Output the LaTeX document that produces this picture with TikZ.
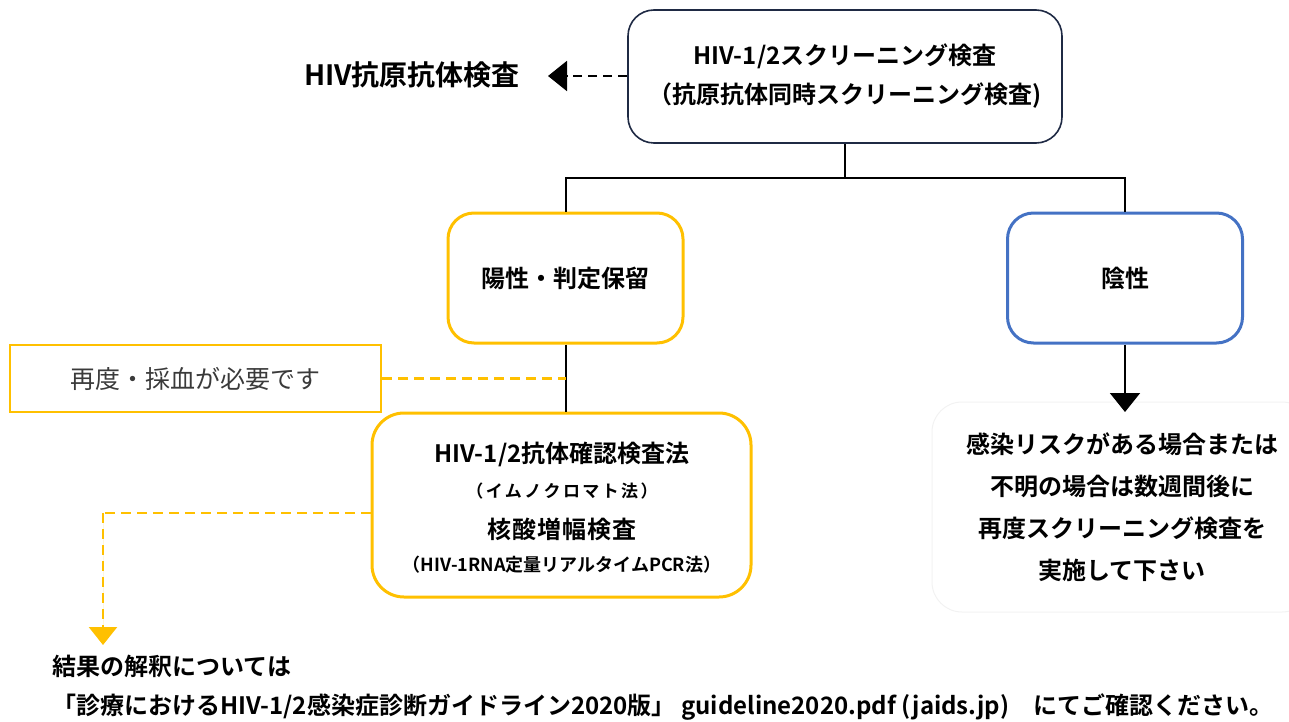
\documentclass[tikz,border=0pt]{standalone}
\usepackage{fontspec}
\setmainfont{Noto Sans CJK JP}[BoldFont={Noto Sans CJK JP Bold}]
\usetikzlibrary{arrows.meta}
\definecolor{ylw}{HTML}{FFC000}
\definecolor{blu}{HTML}{4472C4}
\definecolor{navy}{HTML}{1F2A44}
\definecolor{txtgray}{HTML}{3A3A3A}
\newcommand{\fsz}[2]{\fontsize{#1}{#2}\selectfont}
\begin{document}
\begin{tikzpicture}[x=1pt,y=-1pt,
  rbox/.style={rounded corners=26pt, line width=3pt, align=center, inner sep=0pt},
  txt/.style={inner sep=0pt, align=center, font=\bfseries},
  conn/.style={draw=black, line width=2pt},
  bdash/.style={draw=black, line width=2pt, dash pattern=on 9pt off 6pt},
  ydash/.style={draw=ylw, line width=2.5pt, dash pattern=on 10pt off 6pt},
  btip/.style={-{Triangle[length=19pt,width=30pt]}},
  ytip/.style={-{Triangle[length=18pt,width=28pt]}}]
\useasboundingbox (0,0) rectangle (1289,722);

% boxes
\node[rbox, draw=navy, line width=1.6pt, minimum width=434pt, minimum height=133pt,
      font=\bfseries\fsz{24}{39}] (top) at (845,76.5)
  {HIV-1/2スクリーニング検査\\（抗原抗体同時スクリーニング検査)};
\node[rbox, draw=ylw, minimum width=235pt, minimum height=130pt,
      font=\bfseries\fsz{24}{28}] (pos) at (565.5,278) {陽性・判定保留};
\node[rbox, draw=blu, minimum width=235pt, minimum height=130pt,
      font=\bfseries\fsz{24}{28}] (neg) at (1125,278) {陰性};
\node[draw=ylw, line width=2.5pt, minimum width=371pt, minimum height=67pt, inner sep=0pt,
      text=txtgray, font=\fsz{25}{30}] (redo) at (195.5,378.5) {再度・採血が必要です};
\node[rbox, draw=ylw, rounded corners=32pt, minimum width=379pt, minimum height=184pt] (conf) at (561.5,505) {};
\node[txt, font=\bfseries\fsz{24}{28}] (c1) at (562,454) {HIV-1/2抗体確認検査法};
\node[txt, font=\bfseries\fsz{17}{20}\addfontfeature{LetterSpace=14}] (c2) at (562,491) {（イムノクロマト法）};
\node[txt, font=\bfseries\fsz{24}{28}\addfontfeature{LetterSpace=4}] (c3) at (562,529) {核酸増幅検査};
\node[txt, font=\bfseries\fsz{18}{20}] (c4) at (562,565) {（HIV-1RNA定量リアルタイムPCR法）};

\node[draw=black!5, line width=1pt, rounded corners=30pt, minimum width=380pt, minimum height=210pt,
      inner sep=0pt, align=center, font=\bfseries\fsz{24}{42}] (advice) at (1122,507)
  {感染リスクがある場合または\\不明の場合は数週間後に\\再度スクリーニング検査を\\実施して下さい};

\node[txt, font=\bfseries\fsz{28}{32}] (hivab) at (412,75) {HIV抗原抗体検査};

\node[txt, anchor=west, font=\bfseries\fsz{24}{28}] (res1) at (52,666) {結果の解釈については};
\node[txt, anchor=west, font=\bfseries\fsz{24}{28}] (res2) at (52,707)
  {「診療におけるHIV-1/2感染症診断ガイドライン2020版」 guideline2020.pdf (jaids.jp)　にてご確認ください。};

% coordinates
\coordinate (split) at (845,178);
\coordinate (hivtip) at (548,76);
\coordinate (negtip) at (1125,412);
\coordinate (bend) at (103,513);
\coordinate (restip) at (103,645);

% connectors
\draw[conn] (top.south) -- (split);
\draw[conn] (pos.north) |- (split) -| (neg.north);
\draw[conn] (pos.south) -- (pos.south |- conf.north);
\draw[bdash, btip] (top.west |- hivtip) -- (hivtip);
\draw[conn, btip] (neg.south) -- (negtip);
\draw[ydash] (redo.east) -- (redo.east -| pos.south);
\draw[ydash] (conf.west |- bend) -- (bend);
\draw[ydash, ytip, fill=ylw] (bend) -- (restip);
\end{tikzpicture}
\end{document}
